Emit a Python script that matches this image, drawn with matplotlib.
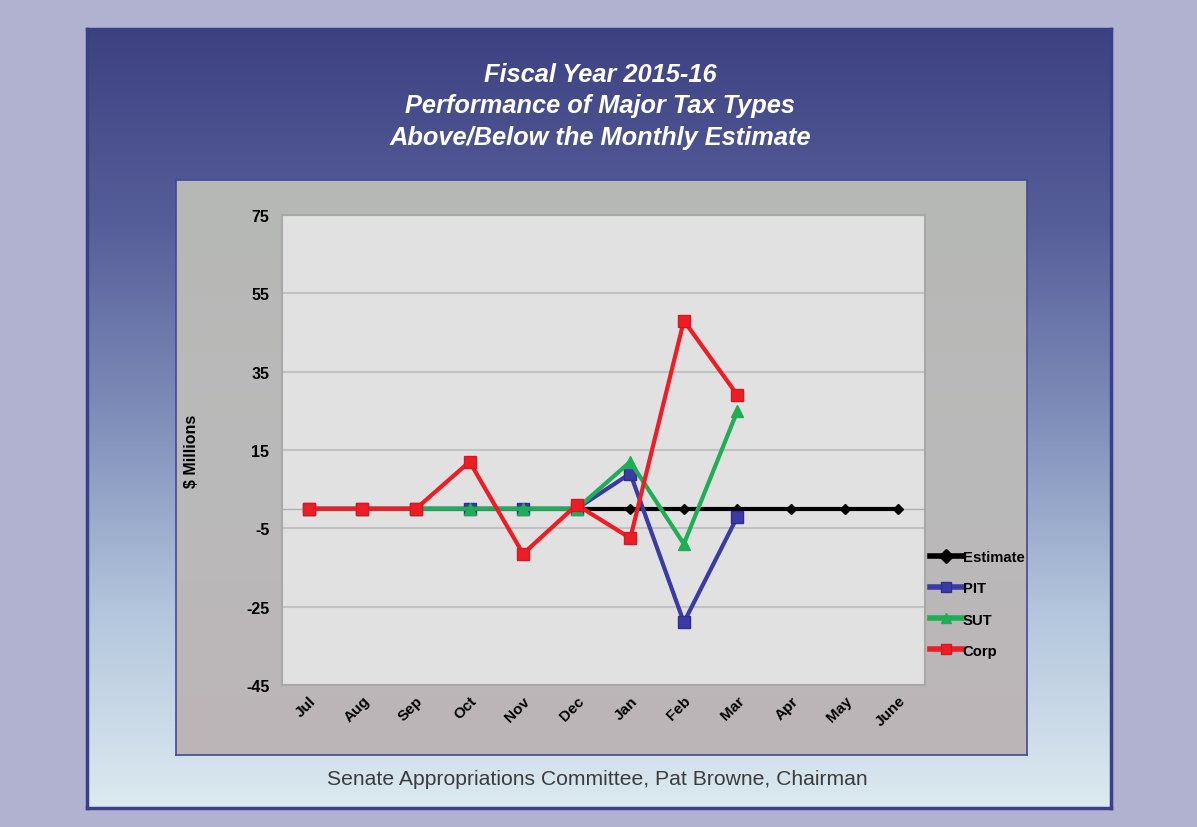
import numpy as np
import matplotlib
matplotlib.use("Agg")
import matplotlib.pyplot as plt

# ---- data ($ millions above/below monthly estimate) ----
months = ["Jul", "Aug", "Sep", "Oct", "Nov", "Dec", "Jan", "Feb", "Mar", "Apr", "May", "June"]
estimate = [0, 0, 0, 0, 0, 0, 0, 0, 0, 0, 0, 0]
pit = [0, 0, 0, 0, 0, 0, 9, -29, -2]
sut = [0, 0, 0, 0, 0, 0, 12, -9, 25]
corp = [0, 0, 0, 12, -11.5, 1, -7.5, 48, 29]
yticks = [-45, -25, -5, 15, 35, 55, 75]

W, H = 1197, 828
plt.rcParams["font.family"] = ["Liberation Sans", "DejaVu Sans"]


def rect(x0, y0, x1, y1):
    return [x0 / W, 1 - y1 / H, (x1 - x0) / W, (y1 - y0) / H]


def vgradient(ax, stops):
    pos = np.array([s[0] for s in stops])
    cols = np.array([s[1] for s in stops], dtype=float) / 255.0
    t = np.linspace(0, 1, 400)
    img = np.stack([np.interp(t, pos, cols[:, c]) for c in range(3)], axis=-1)
    ax.imshow(img[:, None, :], aspect="auto", extent=[0, 1, 1, 0], interpolation="bilinear")
    ax.set_xlim(0, 1)
    ax.set_ylim(1, 0)
    ax.set_xticks([])
    ax.set_yticks([])


fig = plt.figure(figsize=(W / 100, H / 100), dpi=100, facecolor="#b1b2d0")

# outer panel with blue-to-pale gradient
panel = fig.add_axes(rect(87, 30, 1111, 809))
vgradient(panel, [(0.0, (61, 65, 130)), (0.25, (86, 94, 153)), (0.5, (128, 142, 186)),
                  (0.75, (180, 198, 221)), (1.0, (220, 234, 240))])
for s in panel.spines.values():
    s.set_color("#39408a")
    s.set_linewidth(2.5)

# chart frame
frame = fig.add_axes(rect(176, 181, 1027, 756))
vgradient(frame, [(0.0, (182, 184, 181)), (0.5, (186, 186, 186)), (1.0, (188, 181, 184))])
for s in frame.spines.values():
    s.set_color("#3f4a98")
    s.set_linewidth(1.2)

# titles
title_lines = ["Fiscal Year 2015-16", "Performance of Major Tax Types",
               "Above/Below the Monthly Estimate"]
for line, yp in zip(title_lines, [75, 106, 138]):
    fig.text(600 / W, 1 - yp / H, line, ha="center", va="center", color="white",
             fontsize=18.3, fontweight="bold", fontstyle="italic")

fig.text(597 / W, 1 - 780 / H, "Senate Appropriations Committee, Pat Browne, Chairman",
         ha="center", va="center", color="#3c3c3c", fontsize=15.2)

# plot area
ax = fig.add_axes(rect(282, 216, 925, 686))
ax.set_facecolor("#e1e1e1")
x_all = np.arange(len(months))

ax.set_xlim(-0.5, len(months) - 0.5)
ax.set_ylim(-45, 75)
ax.set_yticks(yticks)
ax.set_yticklabels([str(v) for v in yticks], fontsize=11.5, fontweight="bold")
ax.set_xticks(x_all)
ax.set_xticklabels(months, fontsize=11, fontweight="bold", rotation=45,
                   ha="right", rotation_mode="anchor")
ax.tick_params(axis="both", length=0)
ax.tick_params(axis="y", pad=9)
ax.tick_params(axis="x", pad=6)
ax.grid(axis="y", color="#c2c2c2", linewidth=1.5)
ax.set_axisbelow(True)
ax.axhline(0, color="#b0b0b0", linewidth=1.0, zorder=1)
for s in ax.spines.values():
    s.set_color("#a8a8a8")
    s.set_linewidth(1.5)

ax.set_ylabel("$ Millions", fontsize=11.5, fontweight="bold", labelpad=34)

ax.plot(x_all, estimate, color="black", linewidth=3, marker="D", markersize=5,
        label="Estimate", zorder=3, clip_on=False)
n = len(pit)
ax.plot(x_all[:n], pit, color="#3b3ba3", linewidth=3, marker="s", markersize=8,
        markeredgecolor="#2e2e90", label="PIT", zorder=4)
ax.plot(x_all[:n], sut, color="#1fae55", linewidth=3, marker="^", markersize=8,
        label="SUT", zorder=5)
ax.plot(x_all[:n], corp, color="#ee1c24", linewidth=3, marker="s", markersize=9,
        markeredgecolor="#d81820", label="Corp", zorder=6)

leg = ax.legend(loc="center left", bbox_to_anchor=(930 / W, 1 - 605 / H),
                bbox_transform=fig.transFigure, frameon=False, borderaxespad=0,
                borderpad=0, handlelength=2.2, handletextpad=0.0, labelspacing=1.15,
                prop={"weight": "bold", "size": 10.7})
for h in leg.legend_handles:
    h.set_markersize(7)
    h.set_linewidth(4)

fig.savefig("out.png", dpi=100, facecolor=fig.get_facecolor())
